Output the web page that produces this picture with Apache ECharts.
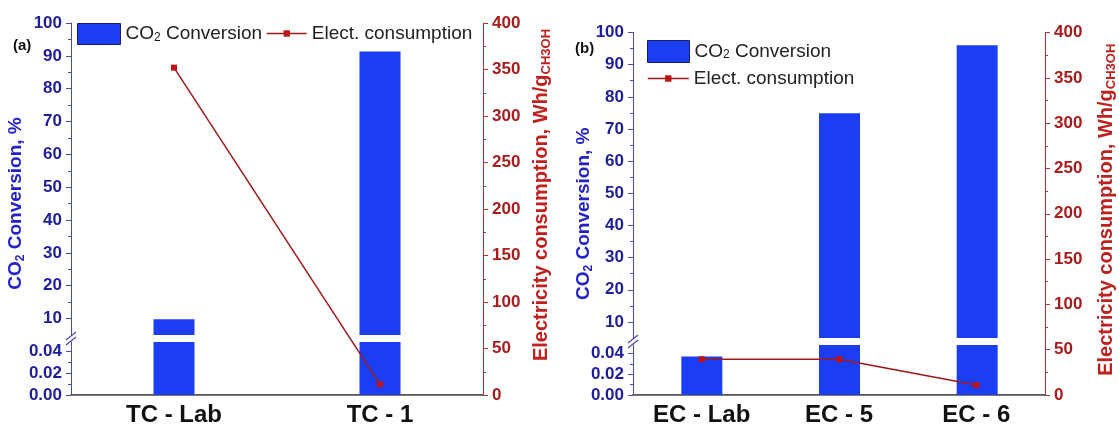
<!DOCTYPE html>
<html>
<head>
<meta charset="utf-8">
<script src="https://cdn.jsdelivr.net/npm/echarts@6/dist/echarts.min.js"></script>
<style>
  html, body { margin: 0; padding: 0; background: #ffffff; }
  #chart { width: 1119px; height: 429px; }
</style>
</head>
<body>
<div id="chart"></div>
<script>
// ---- data ----
const categoriesTC = ['TC - Lab', 'TC - 1'];
const conversionTC = [9.8, 91.3];          // CO2 conversion, %
const electricityTC = [352, 11.5];         // Wh/g CH3OH

const categoriesEC = ['EC - Lab', 'EC - 5', 'EC - 6'];
const conversionEC = [0.037, 74.9, 96.0];  // CO2 conversion, %
const electricityEC = [39.5, 39.5, 11];    // Wh/g CH3OH

const upperTicks = [10, 20, 30, 40, 50, 60, 70, 80, 90, 100];
const upperMinorTicks = [15, 25, 35, 45, 55, 65, 75, 85, 95];
const lowerTicks = [0, 0.02, 0.04];
const lowerMinorTicks = [0.01, 0.03];
const rightMax = 400;
const rightStep = 50;

const BAR_NAME = 'CO2 Conversion';
const LINE_NAME = 'Elect. consumption';

// ---- styles ----
const FONT = 'Liberation Sans';
const BLUE_TXT = '#1e1e9c';
const BLUE_TITLE = '#2222c8';
const BLUE_AX = '#4a4aa8';
const RED_TXT = '#a81c1c';
const RED_TITLE = '#c0201e';
const RED_AX = '#b03434';
const BAR = '#1c3ef2';
const LINE = '#a01818';
const MARK = '#c01212';

const BASE = 395; // y pixel of the category axis

// layout of the two panels (pixels)
const panels = [
  { cats: categoriesTC, conv: conversionTC, elec: electricityTC,
    left: 71, right: 483, top: 23, brk: 335, lowTop: 342, lowMax: 0.049,
    tag: '(a)', tagX: 13, tagY: 38,
    leftGap: 44, rightGap: 47, leftPad: 11, rightPad: 28,
    legends: [
      { name: BAR_NAME, left: 77, top: 23, w: 43, h: 21 },
      { name: LINE_NAME, left: 266, top: 24, w: 40, h: 8 }
    ] },
  { cats: categoriesEC, conv: conversionEC, elec: electricityEC,
    left: 633, right: 1046, top: 32.5, brk: 338, lowTop: 345, lowMax: 0.048,
    tag: '(b)', tagX: 575, tagY: 41,
    leftGap: 38, rightGap: 50, leftPad: 0, rightPad: 8,
    legends: [
      { name: BAR_NAME, left: 647, top: 40, w: 42, h: 22 },
      { name: LINE_NAME, left: 647, top: 69, w: 41, h: 8 }
    ] }
];

const subRich = (color, size) => ({
  sub: { fontFamily: FONT, fontWeight: 'bold', fontSize: size, color: color,
         verticalAlign: 'bottom', lineHeight: size + 2 }
});

const grid = [], xAxis = [], yAxis = [], series = [], legend = [], graphic = [];

panels.forEach(p => {
  const w = p.right - p.left;
  const gFull = grid.length;
  grid.push({ left: p.left, width: w, top: p.top, height: BASE - p.top });
  const gUp = grid.length;
  grid.push({ left: p.left, width: w, top: p.top, height: p.brk - p.top });
  const gLow = grid.length;
  grid.push({ left: p.left, width: w, top: p.lowTop, height: BASE - p.lowTop });

  // x axes
  const xBottom = xAxis.length;
  xAxis.push({
    type: 'category', gridIndex: gFull, position: 'bottom', data: p.cats,
    axisLine: { lineStyle: { color: '#5a5a5a', width: 2 } },
    axisTick: { alignWithLabel: true, length: 5, lineStyle: { color: '#333', width: 1.2 } },
    axisLabel: { color: '#111', fontFamily: FONT, fontWeight: 'bold', fontSize: 24, margin: 8 },
    splitLine: { show: false }
  });
  xAxis.push({
    type: 'category', gridIndex: gFull, position: 'top', data: p.cats,
    axisLine: { lineStyle: { color: '#7a7a7a', width: 1 } },
    axisTick: { show: false }, axisLabel: { show: false }, splitLine: { show: false }
  });
  const xUp = xAxis.length;
  xAxis.push({ type: 'category', gridIndex: gUp, data: p.cats, show: false });
  const xLow = xAxis.length;
  xAxis.push({ type: 'category', gridIndex: gLow, data: p.cats, show: false });

  // right axis: electricity consumption
  const yRight = yAxis.length;
  yAxis.push({
    type: 'value', gridIndex: gFull, position: 'right', min: 0, max: rightMax, interval: rightStep,
    axisLine: { show: true, lineStyle: { color: RED_AX, width: 1 } },
    axisTick: { show: true, length: 5, lineStyle: { color: RED_AX } },
    minorTick: { show: true, splitNumber: 2, length: 3, lineStyle: { color: RED_AX } },
    axisLabel: { color: RED_TXT, fontFamily: FONT, fontWeight: 'bold', fontSize: 17, margin: 9 },
    splitLine: { show: false }, minorSplitLine: { show: false },
    name: 'Electricity consumption, Wh/g{sub|CH3OH}', nameLocation: 'middle', nameRotate: 90,
    nameGap: p.rightGap,
    nameTextStyle: { color: RED_TITLE, fontFamily: FONT, fontWeight: 'bold', fontSize: 20,
                     lineHeight: 23, padding: [0, 0, 0, p.rightPad], rich: subRich(RED_TITLE, 13) }
  });
  // left title holder spanning the whole panel height
  yAxis.push({
    type: 'value', gridIndex: gFull, position: 'left', min: 0, max: 1,
    axisLine: { show: false }, axisTick: { show: false }, axisLabel: { show: false },
    splitLine: { show: false },
    name: 'CO{sub|2} Conversion, %', nameLocation: 'middle', nameRotate: 90, nameGap: p.leftGap,
    nameTextStyle: { color: BLUE_TITLE, fontFamily: FONT, fontWeight: 'bold', fontSize: 19,
                     lineHeight: 22, padding: [0, 0, 0, p.leftPad], rich: subRich(BLUE_TITLE, 12) }
  });
  // upper segment of the broken conversion axis
  const yUp = yAxis.length;
  yAxis.push({
    type: 'value', gridIndex: gUp, position: 'left', min: 5, max: 100,
    axisLine: { show: true, lineStyle: { color: BLUE_AX, width: 1 } },
    axisTick: { show: true, length: 5, customValues: upperTicks, lineStyle: { color: BLUE_AX } },
    axisLabel: { customValues: upperTicks, color: BLUE_TXT, fontFamily: FONT, fontWeight: 'bold',
                 fontSize: 17, margin: 9 },
    splitLine: { show: false }
  });
  yAxis.push({
    type: 'value', gridIndex: gUp, position: 'left', min: 5, max: 100,
    axisLine: { show: false },
    axisTick: { show: true, length: 3, customValues: upperMinorTicks, lineStyle: { color: BLUE_AX } },
    axisLabel: { show: false }, splitLine: { show: false }
  });
  // lower segment of the broken conversion axis
  const yLow = yAxis.length;
  yAxis.push({
    type: 'value', gridIndex: gLow, position: 'left', min: 0, max: p.lowMax,
    axisLine: { show: true, lineStyle: { color: BLUE_AX, width: 1 } },
    axisTick: { show: true, length: 5, customValues: lowerTicks, lineStyle: { color: BLUE_AX } },
    axisLabel: { customValues: lowerTicks, color: BLUE_TXT, fontFamily: FONT, fontWeight: 'bold',
                 fontSize: 17, margin: 9, formatter: v => Number(v).toFixed(2) },
    splitLine: { show: false }
  });
  yAxis.push({
    type: 'value', gridIndex: gLow, position: 'left', min: 0, max: p.lowMax,
    axisLine: { show: false },
    axisTick: { show: true, length: 3, customValues: lowerMinorTicks, lineStyle: { color: BLUE_AX } },
    axisLabel: { show: false }, splitLine: { show: false }
  });

  // bars, drawn in both segments and clipped by each
  series.push({
    type: 'bar', name: BAR_NAME, xAxisIndex: xUp, yAxisIndex: yUp, data: p.conv,
    barWidth: 41, clip: true, itemStyle: { color: BAR }
  });
  series.push({
    type: 'bar', name: BAR_NAME, xAxisIndex: xLow, yAxisIndex: yLow, data: p.conv,
    barWidth: 41, clip: true, itemStyle: { color: BAR }
  });
  // electricity consumption line
  series.push({
    type: 'line', name: LINE_NAME, xAxisIndex: xBottom, yAxisIndex: yRight, data: p.elec,
    symbol: 'rect', symbolSize: 6, z: 5,
    lineStyle: { color: LINE, width: 1.5 }, itemStyle: { color: MARK }
  });

  // legends
  p.legends.forEach(l => {
    const isBar = l.name === BAR_NAME;
    legend.push({
      data: [{ name: l.name, icon: isBar ? 'rect' : undefined }],
      left: l.left, top: l.top, itemWidth: l.w, itemHeight: l.h,
      orient: 'vertical', padding: 0, selectedMode: false,
      itemStyle: isBar ? { color: BAR, borderColor: '#1a1a70', borderWidth: 1 } : { color: MARK },
      lineStyle: isBar ? undefined : { color: LINE, width: 1.5 },
      formatter: n => n === BAR_NAME ? 'CO{sub|2} Conversion' : n,
      textStyle: { color: '#222', fontFamily: FONT, fontSize: 19,
        rich: { sub: { fontFamily: FONT, fontSize: 12, color: '#222', verticalAlign: 'bottom', lineHeight: 14 } } }
    });
  });

  // axis break marks
  const yc = (p.brk + p.lowTop) / 2;
  [-2.5, 2.5].forEach(d => {
    graphic.push({
      type: 'line', silent: true, z: 10,
      shape: { x1: p.left - 5, y1: yc + d + 4, x2: p.left + 5, y2: yc + d - 4 },
      style: { stroke: BLUE_AX, lineWidth: 1.2 }
    });
  });
  // panel tag
  graphic.push({
    type: 'text', left: p.tagX, top: p.tagY,
    style: { text: p.tag, fill: '#111', font: 'bold 15px "' + FONT + '"' }
  });
});

const chart = echarts.init(document.getElementById('chart'), null, { renderer: 'canvas' });
chart.setOption({
  animation: false,
  backgroundColor: '#ffffff',
  grid, xAxis, yAxis, series, legend, graphic
});
</script>
</body>
</html>
